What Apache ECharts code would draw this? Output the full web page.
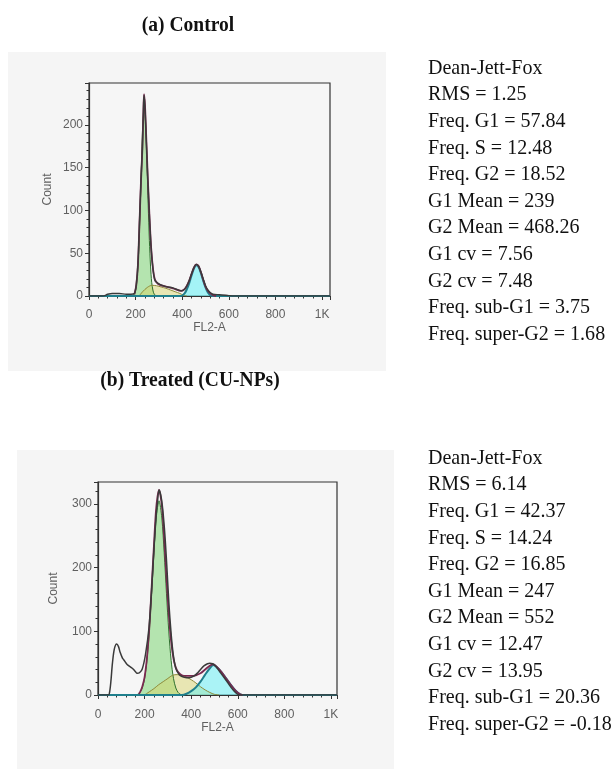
<!DOCTYPE html>
<html>
<head>
<meta charset="utf-8">
<script src="https://cdn.jsdelivr.net/npm/echarts@6/dist/echarts.min.js"></script>
<style>
html,body{margin:0;padding:0;background:#fff;}
#chart{width:616px;height:770px;}
</style>
</head>
<body>
<div id="chart"></div>
<script>
// ---- Control: DNA content histogram (FL2-A) and Dean-Jett-Fox components ----
const controlRaw = [[0,0],[60,0],[80,2],[100,3],[130,3],[160,2],[180,2],[195,3],[203,14],[210,38],[217,90],[223,135],[229,172],[233,212],[236,235],[240,222],[245,188],[252,138],[260,90],[267,54],[275,30],[282,19],[290,16],[304,13.5],[330,11],[360,9.5],[396,6],[410,8],[420,12],[430,18],[440,26],[450,33],[460,37],[470,35],[480,28],[490,20],[500,12],[510,7],[520,4],[532,2],[560,1.5],[600,0.5],[620,0],[1034,0]];
const controlFit = [[195,2],[203,13],[210,37],[217,88],[223,134],[229,172],[233,213],[236,236],[240,224],[245,190],[252,140],[260,90],[267,55],[275,31],[282,20],[290,16],[304,13],[330,11],[360,9],[396,6],[410,8],[420,12],[430,18],[440,26],[450,33],[460,37],[470,35],[480,28],[490,19],[500,11],[510,6],[520,3],[532,1],[545,0]];
const controlG1 = [[190,0],[200,7],[205,16],[210,35],[215,65],[220,106],[225,154],[230,196],[237,222],[244,196],[249,154],[254,106],[259,65],[264,35],[269,16],[274,7],[280,2],[290,0]];
const controlS = [[215,0],[230,5],[250,10],[270,12.5],[290,12],[310,10.5],[330,9],[350,7],[370,5],[390,3],[405,1],[420,0]];
const controlG2 = [[0,0],[395,0],[410,3],[420,8],[430,15],[440,24],[450,32],[460,36],[470,34],[480,27],[490,18],[500,10],[510,4],[520,1],[530,0],[1034,0]];

// ---- Treated (CU-NPs) ----
const treatedRaw = [[0,0],[45,0],[50,5],[55,20],[62,50],[70,72],[80,80],[88,76],[95,67],[105,58],[111,55],[125,48],[147,42],[160,37],[168,34],[178,35],[190,41],[204,64],[219,106],[230,165],[240,228],[250,284],[255,302],[262,322],[268,316],[276,298],[285,262],[293,218],[300,172],[305,140],[312,105],[319,76],[326,56],[334,42],[345,34],[355,30],[370,28],[391,27],[413,30],[428,35],[442,41],[456,46],[470,49],[480,50],[492,49],[503,46],[514,41],[528,34],[542,27],[556,20],[571,12],[585,6],[600,1],[615,0],[1026,0]];
const treatedFit = [[175,2],[180,4],[190,13],[200,28],[210,58],[220,104],[230,167],[240,234],[250,294],[262,322],[274,298],[284,246],[294,184],[304,126],[314,84],[324,57],[334,43],[344,36],[360,31],[380,30],[400,30],[420,31],[440,34],[460,40],[480,46],[495,48],[510,44],[530,36],[550,26],[570,16],[590,7],[610,1],[620,0]];
const treatedG1 = [[165,0],[170,1],[180,4],[190,11],[200,26],[210,54],[220,99],[230,159],[240,224],[250,278],[262,305],[274,278],[284,224],[294,159],[304,99],[314,54],[324,26],[334,11],[344,4],[354,1],[364,0]];
const treatedS = [[200,0],[220,5],[240,10],[260,16],[280,21],[300,26],[320,31],[340,32],[360,31],[380,28],[400,24],[420,19],[440,13],[460,8],[480,4],[500,1],[520,0]];
const treatedG2 = [[0,0],[360,0],[380,2],[400,6],[420,12],[440,21],[460,32],[480,42],[495,47],[510,44],[530,36],[550,26],[570,16],[590,7],[610,1],[620,0],[1026,0]];

// ---- Axis ranges and ticks ----
const xTicks = [0, 200, 400, 600, 800, 1000];
const controlYTicks = [0, 50, 100, 150, 200];
const treatedYTicks = [0, 100, 200, 300];

// ---- Model statistics ----
const controlStats = ['Dean-Jett-Fox','RMS = 1.25','Freq. G1 = 57.84','Freq. S = 12.48','Freq. G2 = 18.52','G1 Mean = 239','G2 Mean = 468.26','G1 cv = 7.56','G2 cv = 7.48','Freq. sub-G1 = 3.75','Freq. super-G2 = 1.68'];
const treatedStats = ['Dean-Jett-Fox','RMS = 6.14','Freq. G1 = 42.37','Freq. S = 14.24','Freq. G2 = 16.85','G1 Mean = 247','G2 Mean = 552','G1 cv = 12.47','G2 cv = 13.95','Freq. sub-G1 = 20.36','Freq. super-G2 = -0.18'];

const titles = ['(a) Control', '(b) Treated (CU-NPs)'];

const chart = echarts.init(document.getElementById('chart'), null, {renderer: 'canvas'});

const sansFont = 'Liberation Sans, Arial, sans-serif';
const serifFont = 'Liberation Serif, Times New Roman, serif';
const tickFont = {color: '#606060', fontSize: 12, fontFamily: sansFont};

function xAxisFor(gridIndex, max, gap, margin) {
  return {
    type: 'value', gridIndex, min: 0, max, interval: 200,
    name: 'FL2-A', nameLocation: 'middle', nameGap: gap,
    nameTextStyle: {color: '#606060', fontSize: 12, fontFamily: sansFont},
    axisLine: {show: true, onZero: false, lineStyle: {color: '#333', width: 1.2}},
    axisTick: {show: true, inside: false, length: 4, lineStyle: {color: '#333'}},
    minorTick: {show: true, splitNumber: 5, length: 2.5, lineStyle: {color: '#333'}},
    splitLine: {show: false},
    axisLabel: Object.assign({margin, showMaxLabel: false,
      formatter: v => xTicks.includes(v) ? (v === 1000 ? '1K' : String(v)) : ''}, tickFont)
  };
}

function yAxisFor(gridIndex, max, interval, ticks, gap) {
  return {
    type: 'value', gridIndex, min: 0, max, interval,
    name: 'Count', nameLocation: 'middle', nameGap: gap, nameRotate: 90,
    nameTextStyle: {color: '#606060', fontSize: 12, fontFamily: sansFont},
    axisLine: {show: true, lineStyle: {color: '#333', width: 1.2}},
    axisTick: {show: true, length: 4, lineStyle: {color: '#333'}},
    minorTick: {show: true, splitNumber: 5, length: 2.5, lineStyle: {color: '#333'}},
    splitLine: {show: false},
    axisLabel: Object.assign({margin: 6, showMaxLabel: false,
      formatter: v => ticks.includes(v) ? String(v) : ''}, tickFont)
  };
}

function areaSeries(idx, data, fill, edge, edgeWidth) {
  return {
    type: 'line', xAxisIndex: idx, yAxisIndex: idx, data, symbol: 'none', smooth: 0.3,
    lineStyle: {color: edge, width: edgeWidth},
    areaStyle: {color: fill, origin: 'start'},
    silent: true
  };
}

function lineSeries(idx, data, color, width) {
  return {
    type: 'line', xAxisIndex: idx, yAxisIndex: idx, data, symbol: 'none', smooth: 0.3,
    lineStyle: {color, width}, silent: true
  };
}

// Statistics blocks: Times-style text, slightly condensed
function statText(lines, firstY) {
  return lines.map((t, i) => ({
    type: 'text', x: 428, y: firstY + i * 26.6, scaleX: 0.91,
    style: {text: t, fill: '#111', fontSize: 22, fontFamily: serifFont, verticalAlign: 'middle'}
  }));
}

function heading(text, cx, cy) {
  return {
    type: 'text', x: cx, y: cy, scaleX: 0.93,
    style: {text, fill: '#111', fontSize: 21, fontWeight: 'bold', fontFamily: serifFont,
      align: 'center', verticalAlign: 'middle'}
  };
}

const option = {
  animation: false,
  backgroundColor: '#ffffff',
  graphic: [
    {type: 'rect', shape: {x: 8, y: 52, width: 378, height: 319}, style: {fill: '#f5f5f5'}, z: -10},
    {type: 'rect', shape: {x: 17, y: 450, width: 377, height: 319}, style: {fill: '#f5f5f5'}, z: -10},
    heading(titles[0], 188, 26),
    heading(titles[1], 190, 381),
    ...statText(controlStats, 68),
    ...statText(treatedStats, 458)
  ],
  grid: [
    {left: 89, width: 241, top: 83, height: 213, show: true, backgroundColor: '#f6f6f6', borderColor: '#333', borderWidth: 1.2},
    {left: 98, width: 239, top: 482, height: 213, show: true, backgroundColor: '#f6f6f6', borderColor: '#333', borderWidth: 1.2}
  ],
  xAxis: [xAxisFor(0, 1034, 23, 13), xAxisFor(1, 1026, 24, 14)],
  yAxis: [yAxisFor(0, 249, 50, controlYTicks, 35), yAxisFor(1, 334.5, 100, treatedYTicks, 38)],
  series: [
    areaSeries(0, controlG1, 'rgba(120,212,110,0.75)', '#2f6f2f', 1),
    areaSeries(0, controlS, 'rgba(215,210,100,0.65)', '#8d8a3a', 1),
    areaSeries(0, controlG2, 'rgba(95,240,245,0.78)', '#1f7f8c', 2),
    lineSeries(0, controlFit, '#7a2a50', 1.8),
    lineSeries(0, controlRaw, '#3a3a3a', 1.4),

    areaSeries(1, treatedG1, 'rgba(120,212,110,0.75)', '#2f6f2f', 1),
    areaSeries(1, treatedS, 'rgba(215,210,100,0.65)', '#8d8a3a', 1),
    areaSeries(1, treatedG2, 'rgba(95,240,245,0.72)', '#1f7f8c', 2),
    lineSeries(1, treatedFit, '#7a2a50', 1.8),
    lineSeries(1, treatedRaw, '#3a3a3a', 1.5)
  ]
};

chart.setOption(option);
</script>
</body>
</html>
